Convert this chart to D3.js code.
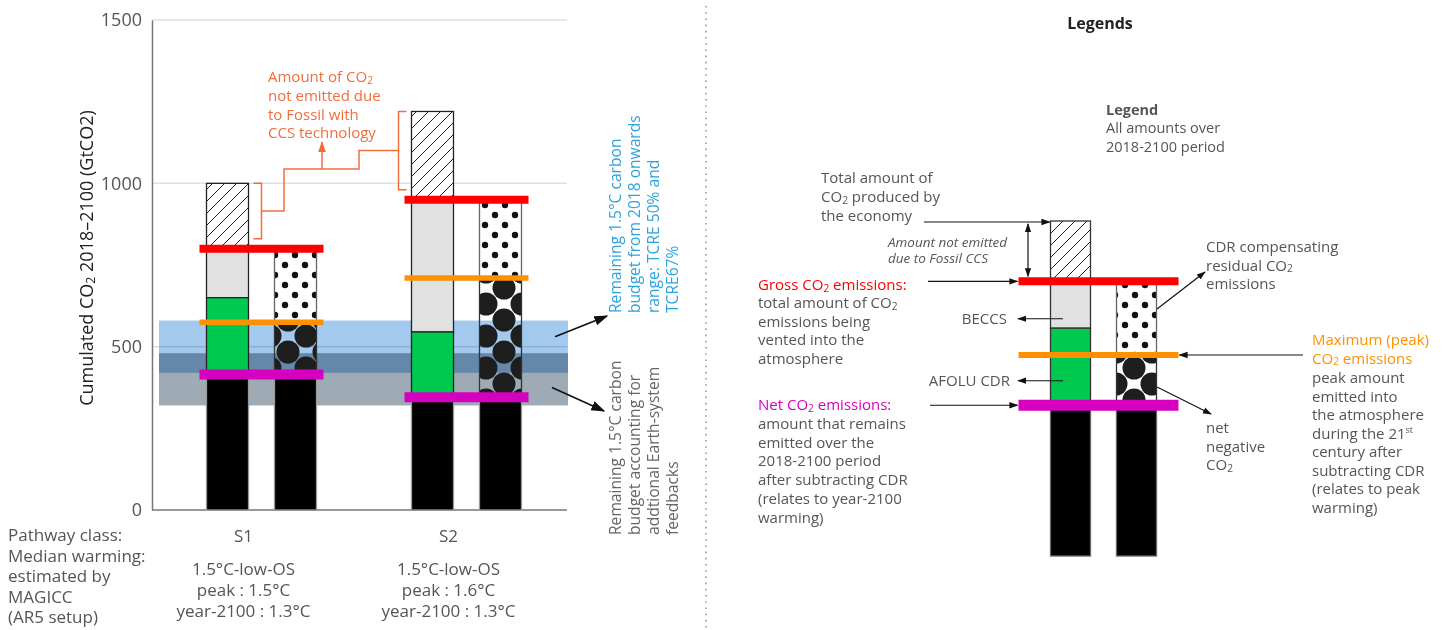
<!DOCTYPE html>
<html>
<head>
<meta charset="utf-8">
<script src="https://cdn.jsdelivr.net/npm/d3@7"></script>
<style>
body { margin: 0; background: #fff; }
svg { display: block; font-family: "Open Sans", Lato, sans-serif; }
</style>
</head>
<body>
<svg id="chart" width="1451" height="630"></svg>
<script>
// pathway values, GtCO2 cumulated 2018-2100
const scenarios = ["S1", "S2"];
const totalCO2 = [1000, 1220];   // total produced by the economy
const grossCO2 = [800, 950];     // gross emissions
const beccsFloor = [650, 545];   // bottom of BECCS block / top of AFOLU
const peakCO2 = [575, 710];      // maximum (peak) emissions
const netCO2 = [415, 345];       // net emissions
const budgetTCRE = [420, 580];
const budgetFeedback = [320, 480];
const yTicks = [0, 500, 1000, 1500];
const pathwayClass = ["1.5°C-low-OS", "1.5°C-low-OS"];
const peakWarming = ["1.5°C", "1.6°C"];
const warming2100 = ["1.3°C", "1.3°C"];
const rowLabels = ["Pathway class:", "Median warming:", "estimated by", "MAGICC", "(AR5 setup)"];
// legend schematic, arbitrary units: total, gross, BECCS floor, peak, net
const legendLevels = [100, 82, 68, 60, 45];

const RED = "#ff0000", ORANGE = "#ff9000", MAGENTA = "#d600c0", GREEN = "#00c94f";
const GREYTXT = "#555", CORAL = "#f26d3d", BLUE = "#2ea3de";

const svg = d3.select("#chart");
const defs = svg.append("defs");

// patterns
const hatch = defs.append("pattern").attr("id", "hatch").attr("patternUnits", "userSpaceOnUse")
  .attr("width", 12).attr("height", 12);
hatch.append("rect").attr("width", 12).attr("height", 12).attr("fill", "#fff");
hatch.append("path").attr("d", "M0,12 L12,0 M-3,3 L3,-3 M9,15 L15,9")
  .attr("stroke", "#222").attr("stroke-width", 1);

const dots = defs.append("pattern").attr("id", "dots").attr("patternUnits", "userSpaceOnUse")
  .attr("width", 20).attr("height", 20);
dots.append("rect").attr("width", 20).attr("height", 20).attr("fill", "#fff");
dots.selectAll("circle").data([[5, 5], [15, 15]]).join("circle")
  .attr("cx", d => d[0]).attr("cy", d => d[1]).attr("r", 3.2).attr("fill", "#111");

const circ = defs.append("pattern").attr("id", "circles").attr("patternUnits", "userSpaceOnUse")
  .attr("width", 36).attr("height", 32);
circ.selectAll("circle").data([[0, 0], [36, 0], [0, 32], [36, 32], [18, 16]]).join("circle")
  .attr("cx", d => d[0]).attr("cy", d => d[1]).attr("r", 11.5).attr("fill", "#1e1e1e");

function marker(id, w, color) {
  defs.append("marker").attr("id", id).attr("viewBox", "0 0 10 10")
    .attr("refX", 9).attr("refY", 5).attr("markerUnits", "userSpaceOnUse")
    .attr("markerWidth", w).attr("markerHeight", w).attr("orient", "auto-start-reverse")
    .append("path").attr("d", "M0,1.5 L10,5 L0,8.5 Z").attr("fill", color);
}
marker("arrS", 9, "#111");
marker("arrL", 14, "#111");
marker("arrC", 11, CORAL);

// text helpers ( _2 = subscript 2, ^st = superscript )
function richLine(g, str, x, y, size, fill, anchor, extra) {
  const t = g.append("text").attr("x", x).attr("y", y).attr("font-size", size)
    .attr("fill", fill).attr("text-anchor", anchor || "start");
  if (extra && extra.weight) t.attr("font-weight", extra.weight);
  if (extra && extra.style) t.attr("font-style", extra.style);
  let off = 0;
  str.split(/(_2|\^st)/).filter(Boolean).forEach(p => {
    if (p === "_2") {
      t.append("tspan").attr("font-size", size * 0.68).attr("dy", size * 0.1 - off).text("2");
      off = size * 0.1;
    } else if (p === "^st") {
      t.append("tspan").attr("font-size", size * 0.6).attr("dy", -size * 0.4 - off).text("st");
      off = -size * 0.4;
    } else {
      t.append("tspan").attr("dy", -off).text(p);
      off = 0;
    }
  });
  return t;
}
function block(g, lines, x, y, lh, size, fill, anchor, extra) {
  lines.forEach((l, i) => richLine(g, l, x, y + i * lh, size, fill, anchor, extra));
}
function arrow(g, pts, mk, color, w) {
  return g.append("path").attr("d", d3.line()(pts)).attr("fill", "none")
    .attr("stroke", color || "#111").attr("stroke-width", w || 1.2)
    .attr("marker-end", mk ? "url(#" + mk + ")" : null);
}

// ---------------- main chart ----------------
const y = d3.scaleLinear().domain([0, 1500]).range([510, 20]);
const x = d3.scalePoint().domain(scenarios).range([159, 569]).padding(0.5);

const chart = svg.append("g");

// carbon budget bands
chart.append("rect").attr("x", 159).attr("width", 409)
  .attr("y", y(budgetTCRE[1])).attr("height", y(budgetTCRE[0]) - y(budgetTCRE[1]))
  .attr("fill", "#a3c9ee");
chart.append("rect").attr("x", 159).attr("width", 409)
  .attr("y", y(budgetFeedback[1])).attr("height", y(budgetFeedback[0]) - y(budgetFeedback[1]))
  .attr("fill", "#9eabb5").style("mix-blend-mode", "multiply");

// gridlines
chart.selectAll("line.grid").data(yTicks.filter(d => d > 0)).join("line")
  .attr("x1", 152).attr("x2", 567).attr("y1", d => y(d)).attr("y2", d => y(d))
  .attr("stroke", "#000").attr("stroke-opacity", 0.12).attr("stroke-width", 1.5);

// axis
const yAxis = chart.append("g").attr("transform", "translate(152,0)")
  .call(d3.axisLeft(y).tickValues(yTicks).tickFormat(d3.format("d"))
    .tickSize(0).tickSizeOuter(0).tickPadding(10));
yAxis.select(".domain").attr("stroke", "#777").attr("stroke-width", 1.5);
yAxis.selectAll("text").attr("font-size", 18).attr("fill", GREYTXT).attr("font-family", "Open Sans");
chart.append("line").attr("x1", 152).attr("x2", 567).attr("y1", y(0)).attr("y2", y(0))
  .attr("stroke", "#777").attr("stroke-width", 1.5);

const yTitle = chart.append("g").attr("transform", "translate(93,258) rotate(-90)");
richLine(yTitle, "Cumulated CO_2 2018–2100 (GtCO2)", 0, 0, 18, "#222", "middle");

// bars
const barW = 42, econOff = -55, cdrOff = 13, lineHalf = 62;
const segs = scenarios.flatMap((s, i) => [
  { s, off: econOff, lo: grossCO2[i], hi: totalCO2[i], fill: "url(#hatch)", stroke: "#222" },
  { s, off: econOff, lo: beccsFloor[i], hi: grossCO2[i], fill: "#e1e1e1", stroke: "#222" },
  { s, off: econOff, lo: netCO2[i], hi: beccsFloor[i], fill: GREEN, stroke: "#222" },
  { s, off: econOff, lo: 0, hi: netCO2[i], fill: "#000", stroke: "#999" },
  { s, off: cdrOff, lo: peakCO2[i], hi: grossCO2[i], fill: "url(#dots)", stroke: "#666" },
  { s, off: cdrOff, lo: netCO2[i], hi: peakCO2[i], fill: "url(#circles)", stroke: "#333" },
  { s, off: cdrOff, lo: 0, hi: netCO2[i], fill: "#000", stroke: "#999" }
]);
chart.selectAll("rect.seg").data(segs).join("rect").attr("class", "seg")
  .attr("x", d => x(d.s) + d.off).attr("width", barW)
  .attr("y", d => y(d.hi)).attr("height", d => y(d.lo) - y(d.hi))
  .attr("fill", d => d.fill).attr("stroke", d => d.stroke).attr("stroke-width", 1.3);

const levels = scenarios.flatMap((s, i) => [
  { s, v: grossCO2[i], c: RED, w: 8 },
  { s, v: peakCO2[i], c: ORANGE, w: 5.5 },
  { s, v: netCO2[i], c: MAGENTA, w: 10 }
]);
chart.selectAll("line.lvl").data(levels).join("line")
  .attr("x1", d => x(d.s) - lineHalf).attr("x2", d => x(d.s) + lineHalf)
  .attr("y1", d => y(d.v)).attr("y2", d => y(d.v))
  .attr("stroke", d => d.c).attr("stroke-width", d => d.w);

// Fossil CCS brackets
const b1x = x("S1") + econOff + barW + 13, b2x = x("S2") + econOff - 13;
const b1t = y(totalCO2[0]), b1b = y(grossCO2[0]) - 10, b1m = (b1t + b1b) / 2;
const b2t = y(totalCO2[1]), b2b = y(grossCO2[1]) - 10, b2m = (b2t + b2b) / 2;
const coral = chart.append("g").attr("fill", "none").attr("stroke", CORAL).attr("stroke-width", 1.5);
coral.append("path").attr("d", `M${b1x - 8},${b1t}H${b1x}V${b1b}H${b1x - 8}`);
coral.append("path").attr("d", `M${b2x + 8},${b2t}H${b2x}V${b2b}H${b2x + 8}`);
coral.append("path").attr("d", `M${b1x},${b1m}H284V169H359V${b2m}H${b2x}`);
arrow(chart, [[322, 169], [322, 142]], "arrC", CORAL, 1.5);
block(chart, ["Amount of CO_2", "not emitted due", "to Fossil with", "CCS technology"], 268, 82, 18.8, 15, CORAL);

// band arrows + rotated notes
arrow(chart, [[555, y(530)], [607, 316]], "arrL", "#111", 1.6);
arrow(chart, [[552, y(375)], [604, 411]], "arrL", "#111", 1.6);
const noteBlue = chart.append("g").attr("transform", "translate(621,313) rotate(-90)");
block(noteBlue, ["Remaining 1.5°C carbon", "budget from 2018 onwards", "range: TCRE 50% and", "TCRE67%"], 0, 0, 19, 15.6, BLUE);
const noteGrey = chart.append("g").attr("transform", "translate(621,535) rotate(-90)");
block(noteGrey, ["Remaining 1.5°C carbon", "budget accounting for", "addtional Earth-system", "feedbacks"], 0, 0, 19, 15.6, "#666");

// bottom labels
block(chart, rowLabels, 8, 541, 20.6, 17, GREYTXT);
chart.selectAll("text.cat").data(scenarios).join("text").attr("class", "cat")
  .attr("x", d => x(d) - 18).attr("y", 542).attr("text-anchor", "middle")
  .attr("font-size", 17).attr("fill", GREYTXT).text(d => d);
scenarios.forEach((s, i) => {
  block(chart, [pathwayClass[i], "peak : " + peakWarming[i], "year-2100 : " + warming2100[i]],
    x(s) - 18, 575, 21, 17, GREYTXT, "middle");
});

// separator
svg.append("line").attr("x1", 706).attr("x2", 706).attr("y1", 6).attr("y2", 630)
  .attr("stroke", "#999").attr("stroke-width", 1.6).attr("stroke-dasharray", "1.6 4.6");

// ---------------- legend panel ----------------
const lg = svg.append("g");
const ly = d3.scaleLinear().domain([0, 100]).range([556, 221]);
const [lTotal, lGross, lFloor, lPeak, lNet] = legendLevels;
const lcx = 1098.5, lBarW = 40, lEcon = -48, lCdr = 18, lHalf = 80;

richLine(lg, "Legends", 1100, 29, 16, "#222", "middle", { weight: "bold" });
richLine(lg, "Legend", 1106, 115, 14.5, GREYTXT, "start", { weight: "bold" });
block(lg, ["All amounts over", "2018-2100 period"], 1106, 133, 18.5, 14.5, GREYTXT);

const lSegs = [
  { off: lEcon, lo: lGross, hi: lTotal, fill: "url(#hatch)", stroke: "#333" },
  { off: lEcon, lo: lFloor, hi: lGross, fill: "#e1e1e1", stroke: "#333" },
  { off: lEcon, lo: lNet, hi: lFloor, fill: GREEN, stroke: "#333" },
  { off: lEcon, lo: 0, hi: lNet, fill: "#000", stroke: "#666" },
  { off: lCdr, lo: lPeak, hi: lGross, fill: "url(#dots)", stroke: "#666" },
  { off: lCdr, lo: lNet, hi: lPeak, fill: "url(#circles)", stroke: "#333" },
  { off: lCdr, lo: 0, hi: lNet, fill: "#000", stroke: "#666" }
];
lg.selectAll("rect.seg").data(lSegs).join("rect")
  .attr("x", d => lcx + d.off).attr("width", lBarW)
  .attr("y", d => ly(d.hi)).attr("height", d => ly(d.lo) - ly(d.hi))
  .attr("fill", d => d.fill).attr("stroke", d => d.stroke).attr("stroke-width", 1.3);
lg.selectAll("line.lvl").data([[lGross, RED, 8], [lPeak, ORANGE, 6], [lNet, MAGENTA, 11]]).join("line")
  .attr("x1", lcx - lHalf).attr("x2", lcx + lHalf)
  .attr("y1", d => ly(d[0])).attr("y2", d => ly(d[0]))
  .attr("stroke", d => d[1]).attr("stroke-width", d => d[2]);

// legend arrows
arrow(lg, [[924, ly(lTotal) + 1], [lcx + lEcon - 1, ly(lTotal) + 1]], "arrS");
lg.append("path").attr("d", d3.line()([[1028, ly(lTotal) + 3], [1028, ly(lGross) - 5]]))
  .attr("stroke", "#111").attr("stroke-width", 1.2)
  .attr("marker-start", "url(#arrS)").attr("marker-end", "url(#arrS)");
arrow(lg, [[928, ly(lGross)], [lcx - lHalf - 1, ly(lGross)]], "arrS");
const beccsY = (ly(lGross) + ly(lFloor)) / 2 + 14, afoluY = (ly(lFloor) + ly(lNet)) / 2 + 14;
arrow(lg, [[1063, beccsY], [1018, beccsY]], "arrS");
arrow(lg, [[1063, afoluY], [1018, afoluY]], "arrS");
arrow(lg, [[930, ly(lNet)], [lcx - lHalf - 1, ly(lNet)]], "arrS");
arrow(lg, [[1157, 309], [1205, 272]], "arrS");
arrow(lg, [[1303, ly(lPeak)], [lcx + lHalf + 1, ly(lPeak)]], "arrS");
arrow(lg, [[1157, 387], [1211, 414]], "arrS");

// legend texts
block(lg, ["Total amount of", "CO_2 produced by", "the economy"], 821, 183, 19, 15, GREYTXT);
block(lg, ["Amount not emitted", "due to Fossil CCS"], 888, 247, 15.5, 13.5, GREYTXT, "start", { style: "italic" });
richLine(lg, "Gross CO_2 emissions:", 758, 290, 15, RED);
block(lg, ["total amount of CO_2", "emissions being", "vented into the", "atmosphere"], 758, 308, 18.7, 15, GREYTXT);
richLine(lg, "BECCS", 1007, beccsY + 5, 15, GREYTXT, "end");
richLine(lg, "AFOLU CDR", 1010, afoluY + 5, 15, GREYTXT, "end");
richLine(lg, "Net CO_2 emissions:", 758, 410, 15, MAGENTA);
block(lg, ["amount that remains", "emitted over the", "2018-2100 period", "after subtracting CDR",
  "(relates to year-2100", "warming)"], 758, 429, 18.7, 15, GREYTXT);
block(lg, ["CDR compensating", "residual CO_2", "emissions"], 1206, 252, 18.7, 15, GREYTXT);
block(lg, ["Maximum (peak)", "CO_2 emissions"], 1312, 345, 18.7, 15, ORANGE);
block(lg, ["peak amount", "emitted into", "the atmosphere", "during the 21^st", "century after",
  "subtracting CDR", "(relates to peak", "warming)"], 1312, 383, 18.5, 15, GREYTXT);
block(lg, ["net", "negative", "CO_2"], 1206, 433, 18.7, 15, GREYTXT);
</script>
</body>
</html>
